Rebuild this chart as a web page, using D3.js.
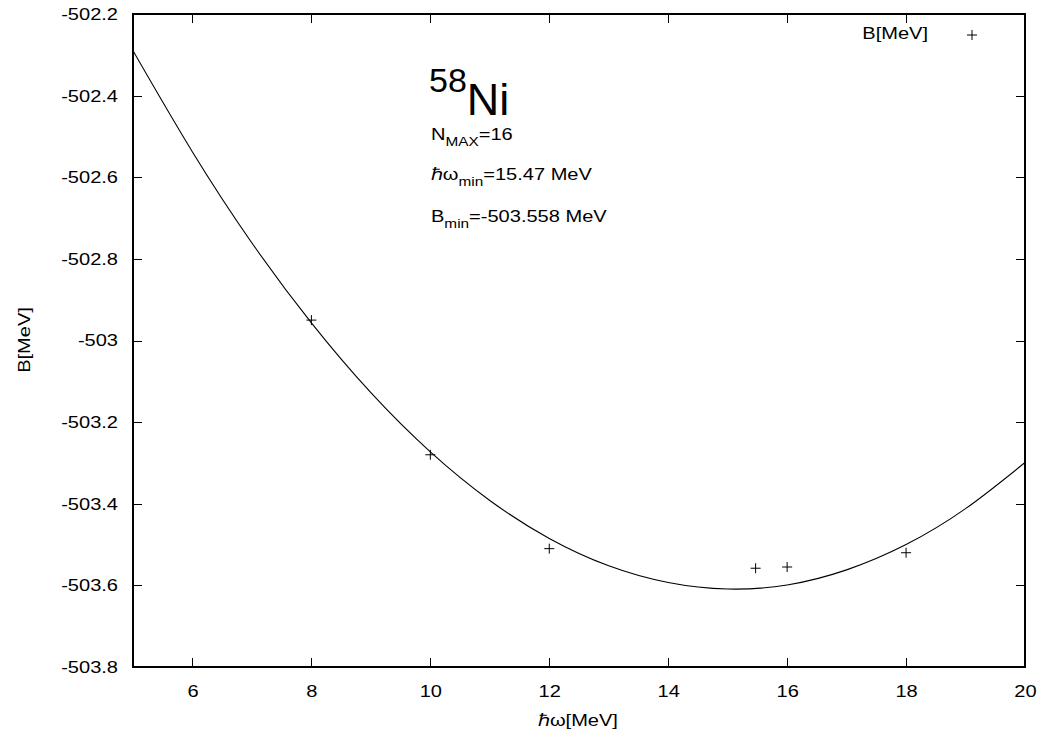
<!DOCTYPE html>
<html>
<head>
<meta charset="utf-8">
<script src="https://cdn.jsdelivr.net/npm/d3@7"></script>
<style>
  html, body { margin: 0; padding: 0; background: #fff; }
  svg { display: block; font-family: "Liberation Sans", Arial, sans-serif; }
</style>
</head>
<body>
<svg id="chart" width="1044" height="740"></svg>
<script>
// Computed binding energies B (MeV) vs oscillator energy ħω (MeV)
const hwPoints = [8, 10, 12, 15.47, 16, 18];
const bPoints = [-502.95, -503.28, -503.51, -503.558, -503.555, -503.52];

// Fitted curve, sampled at integer ħω
const hwCurve = [5, 6, 7, 8, 9, 10, 11, 12, 13, 14, 15, 16, 17, 18, 19, 20];
const bCurve = [-502.290, -502.538, -502.761, -502.957, -503.128, -503.273, -503.392,
  -503.485, -503.552, -503.593, -503.609, -503.599, -503.562, -503.500, -503.412, -503.299];

const xTicks = [6, 8, 10, 12, 14, 16, 18, 20];
const yTicks = [-503.8, -503.6, -503.4, -503.2, -503, -502.8, -502.6, -502.4, -502.2];

const plotL = 133, plotR = 1025, plotT = 14, plotB = 667;
const FS = 17;        // base font size
const SUB = 13;       // subscript font size
const WIDEN = 1.18;   // horizontal widening of the label glyphs

const svg = d3.select("#chart");
const x = d3.scaleLinear().domain([5, 20]).range([plotL, plotR]);
const y = d3.scaleLinear().domain([-503.8, -502.2]).range([plotB, plotT]);
const tickLen = 9;

// widen a text horizontally, keeping its anchor point fixed
function widen(node) {
  const ax = +(node.getAttribute("x") || 0);
  const prev = node.getAttribute("transform") || "";
  node.setAttribute("transform",
    `${prev} translate(${ax},0) scale(${WIDEN},1) translate(${-ax},0)`.trim());
}

function styleAxis(sel) {
  sel.select(".domain").remove();
  sel.selectAll("line").attr("stroke", "#000").attr("stroke-width", 1).attr("shape-rendering", "crispEdges");
  sel.selectAll("text").attr("fill", "#000").attr("font-size", FS)
    .attr("font-family", "Liberation Sans, Arial, sans-serif");
}

// tick marks on all four sides, pointing inward
const xAxisB = d3.axisBottom(x).tickValues(xTicks).tickSizeInner(-tickLen).tickSizeOuter(0)
  .tickFormat(d3.format("d"));
const xAxisT = d3.axisTop(x).tickValues(xTicks).tickSizeInner(-tickLen).tickSizeOuter(0).tickFormat("");
const yAxisL = d3.axisLeft(y).tickValues(yTicks).tickSizeInner(-tickLen).tickSizeOuter(0)
  .tickPadding(15).tickFormat(d => String(+d.toFixed(1)));
const yAxisR = d3.axisRight(y).tickValues(yTicks).tickSizeInner(-tickLen).tickSizeOuter(0).tickFormat("");

const g = svg.append("g");
const gxB = g.append("g").attr("transform", `translate(0,${plotB})`).call(xAxisB).call(styleAxis);
gxB.selectAll("text").attr("dy", null).attr("y", 30);
g.append("g").attr("transform", `translate(0,${plotT})`).call(xAxisT).call(styleAxis);
const gyL = g.append("g").attr("transform", `translate(${plotL},0)`).call(yAxisL).call(styleAxis);
g.append("g").attr("transform", `translate(${plotR},0)`).call(yAxisR).call(styleAxis);
gxB.selectAll("text").each(function () { widen(this); });
gyL.selectAll("text").each(function () { widen(this); });

// frame
svg.append("rect")
  .attr("x", plotL).attr("y", plotT)
  .attr("width", plotR - plotL).attr("height", plotB - plotT)
  .attr("fill", "none").attr("stroke", "#000").attr("stroke-width", 1.2)
  .attr("shape-rendering", "crispEdges");

// clip for the curve
svg.append("clipPath").attr("id", "plotclip")
  .append("rect").attr("x", plotL).attr("y", plotT).attr("width", plotR - plotL).attr("height", plotB - plotT);

const line = d3.line()
  .x((d, i) => x(hwCurve[i]))
  .y(d => y(d))
  .curve(d3.curveNatural);

svg.append("path")
  .datum(bCurve)
  .attr("clip-path", "url(#plotclip)")
  .attr("d", line)
  .attr("fill", "none")
  .attr("stroke", "#000")
  .attr("stroke-width", 1.1);

// plus markers
const half = 5;
function plus(sel, cx, cy) {
  sel.append("line").attr("x1", cx - half).attr("x2", cx + half).attr("y1", cy).attr("y2", cy);
  sel.append("line").attr("x1", cx).attr("x2", cx).attr("y1", cy - half).attr("y2", cy + half);
}
const marks = svg.append("g").attr("stroke", "#000").attr("stroke-width", 1);
hwPoints.forEach((hw, i) => plus(marks, x(hw), y(bPoints[i])));

// legend
const leg = svg.append("text").attr("x", 928).attr("y", 39).attr("text-anchor", "end")
  .attr("font-size", FS).text("B[MeV]");
widen(leg.node());
plus(svg.append("g").attr("stroke", "#000").attr("stroke-width", 1), 972, 35);

// axis titles
const xt = svg.append("text").attr("x", 578).attr("y", 726).attr("text-anchor", "middle")
  .attr("font-size", FS).text("ℏω[MeV]");
widen(xt.node());
const yt = svg.append("text").attr("transform", `translate(30,340) rotate(-90)`)
  .attr("text-anchor", "middle").attr("font-size", FS).text("B[MeV]");
widen(yt.node());

// annotation block
const ann = svg.append("g").attr("fill", "#000");
const nuc = ann.append("text").attr("x", 429).attr("y", 115);
nuc.append("tspan").attr("font-size", 34).attr("dy", -23).text("58");
nuc.append("tspan").attr("font-size", 45).attr("dy", 23).text("Ni");

function subLine(x0, y0, main, sub, rest) {
  const t = ann.append("text").attr("x", x0).attr("y", y0).attr("font-size", FS);
  t.append("tspan").text(main);
  t.append("tspan").attr("font-size", SUB).attr("dy", 6).text(sub);
  t.append("tspan").attr("dy", -6).text(rest);
  widen(t.node());
}
subLine(431, 140, "N", "MAX", "=16");
subLine(431, 180, "ℏω", "min", "=15.47 MeV");
subLine(431, 222, "B", "min", "=-503.558 MeV");
</script>
</body>
</html>
